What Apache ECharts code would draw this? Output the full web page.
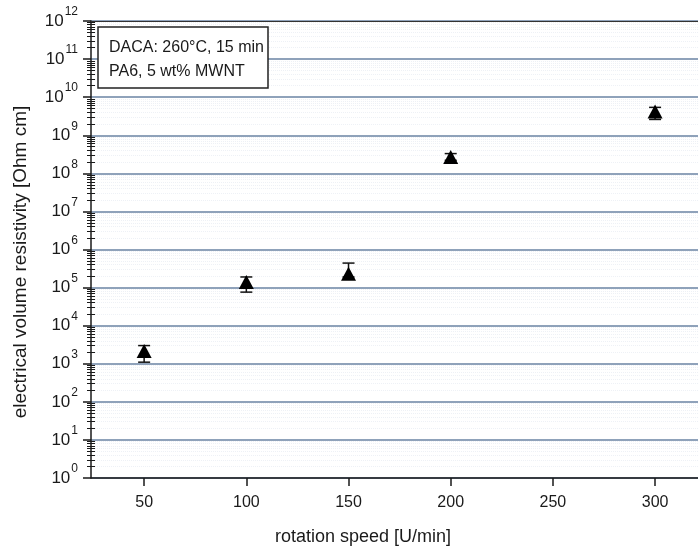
<!DOCTYPE html>
<html>
<head>
<meta charset="utf-8">
<script src="https://cdn.jsdelivr.net/npm/echarts@6/dist/echarts.min.js"></script>
<style>
  html, body { margin: 0; padding: 0; background: #fff; }
  #chart { width: 698px; height: 550px; }
</style>
</head>
<body>
<div id="chart"></div>
<script>
// rotation speed [U/min]
const speeds = [50, 100, 150, 200, 300]
// electrical volume resistivity [Ohm cm]
const resistivity = [2.16e3, 1.4e5, 2.3e5, 2.7e8, 4.2e9]
const errLow = [1.1e3, 7.6e4, 1.9e5, 2.2e8, 2.6e9]
const errHigh = [3.0e3, 1.9e5, 4.4e5, 3.3e8, 5.4e9]

const xTicks = [50, 100, 150, 200, 250, 300]
const legendLines = ['DACA: 260°C, 15 min', 'PA6, 5 wt% MWNT']

// log minor ticks 2..9 within each decade
const minorTicks = []
for (let d = 0; d < 12; d++) {
  for (let k = 2; k <= 9; k++) minorTicks.push(k * Math.pow(10, d))
}

const font = '"Liberation Sans", Arial, sans-serif'
const ink = '#1a1a1a'

const chart = echarts.init(document.getElementById('chart'))

const minorAxis = (inside) => ({
  type: 'log',
  logBase: 10,
  min: 1,
  max: 1e12,
  position: 'left',
  axisLine: { show: false },
  axisLabel: { show: false },
  axisTick: { show: true, inside: inside, length: 4, customValues: minorTicks, lineStyle: { color: ink, width: 1 } },
  splitLine: { show: inside, lineStyle: { color: '#eef1f6', width: 1, type: 'dotted' } }
})

chart.setOption({
  animation: false,
  grid: { left: 91, right: 0, top: 21, bottom: 72 },
  xAxis: [
    {
      type: 'value',
      min: 24,
      max: 321,
      axisLine: { lineStyle: { color: ink, width: 1.5 } },
      axisTick: { customValues: xTicks, length: 8, lineStyle: { color: ink, width: 1.5 } },
      axisLabel: { customValues: xTicks, margin: 17, fontSize: 16, color: ink, fontFamily: font },
      splitLine: { show: false }
    },
    {
      type: 'value',
      min: 24,
      max: 321,
      position: 'top',
      axisLine: { show: true, lineStyle: { color: '#333', width: 1.2 } },
      axisTick: { show: false },
      axisLabel: { show: false },
      splitLine: { show: false }
    }
  ],
  yAxis: [
    {
      type: 'log',
      logBase: 10,
      min: 1,
      max: 1e12,
      interval: 1,
      position: 'left',
      axisLine: { show: true, lineStyle: { color: ink, width: 1.5 } },
      axisTick: { length: 8, lineStyle: { color: ink, width: 1.5 } },
      axisLabel: {
        margin: 13,
        formatter: (v) => '{b|10}{s|' + Math.round(Math.log10(v)) + '}',
        rich: {
          b: { fontSize: 17, color: ink, fontFamily: font },
          s: { fontSize: 12, color: ink, fontFamily: font, padding: [0, 0, 18, 1] }
        }
      },
      splitLine: { show: true, lineStyle: { color: '#6a83a3', width: 1.6 } }
    },
    minorAxis(false),
    minorAxis(true)
  ],
  series: [
    {
      type: 'custom',
      z: 2,
      data: speeds.map((s, i) => [s, errLow[i], errHigh[i]]),
      renderItem: (params, api) => {
        const lo = api.coord([api.value(0), api.value(1)])
        const hi = api.coord([api.value(0), api.value(2)])
        const w = 6
        const style = { stroke: '#111', lineWidth: 1.5 }
        return {
          type: 'group',
          children: [
            { type: 'line', shape: { x1: lo[0], y1: lo[1], x2: hi[0], y2: hi[1] }, style },
            { type: 'line', shape: { x1: lo[0] - w, y1: lo[1], x2: lo[0] + w, y2: lo[1] }, style },
            { type: 'line', shape: { x1: hi[0] - w, y1: hi[1], x2: hi[0] + w, y2: hi[1] }, style }
          ]
        }
      }
    },
    {
      type: 'scatter',
      z: 3,
      symbol: 'triangle',
      symbolSize: [15, 14],
      itemStyle: { color: '#000', opacity: 1 },
      data: speeds.map((s, i) => [s, resistivity[i]])
    }
  ],
  graphic: [
    {
      type: 'rect',
      z: 10,
      shape: { x: 98, y: 27, width: 170, height: 61 },
      style: { fill: '#fff', stroke: '#222', lineWidth: 1.5 }
    },
    {
      type: 'text',
      z: 11,
      x: 109,
      y: 48,
      style: { text: legendLines[0], fontSize: 16, fill: ink, fontFamily: font, verticalAlign: 'middle' }
    },
    {
      type: 'text',
      z: 11,
      x: 109,
      y: 72,
      style: { text: legendLines[1], fontSize: 16, fill: ink, fontFamily: font, verticalAlign: 'middle' }
    },
    {
      type: 'text',
      x: 21,
      y: 262,
      rotation: Math.PI / 2,
      style: { text: 'electrical volume resistivity [Ohm cm]', fontSize: 19, fill: ink, fontFamily: font, align: 'center', verticalAlign: 'middle' }
    },
    {
      type: 'text',
      x: 363,
      y: 537,
      style: { text: 'rotation speed [U/min]', fontSize: 18, fill: ink, fontFamily: font, align: 'center', verticalAlign: 'middle' }
    }
  ]
})

window.addEventListener('resize', () => chart.resize())
</script>
</body>
</html>
